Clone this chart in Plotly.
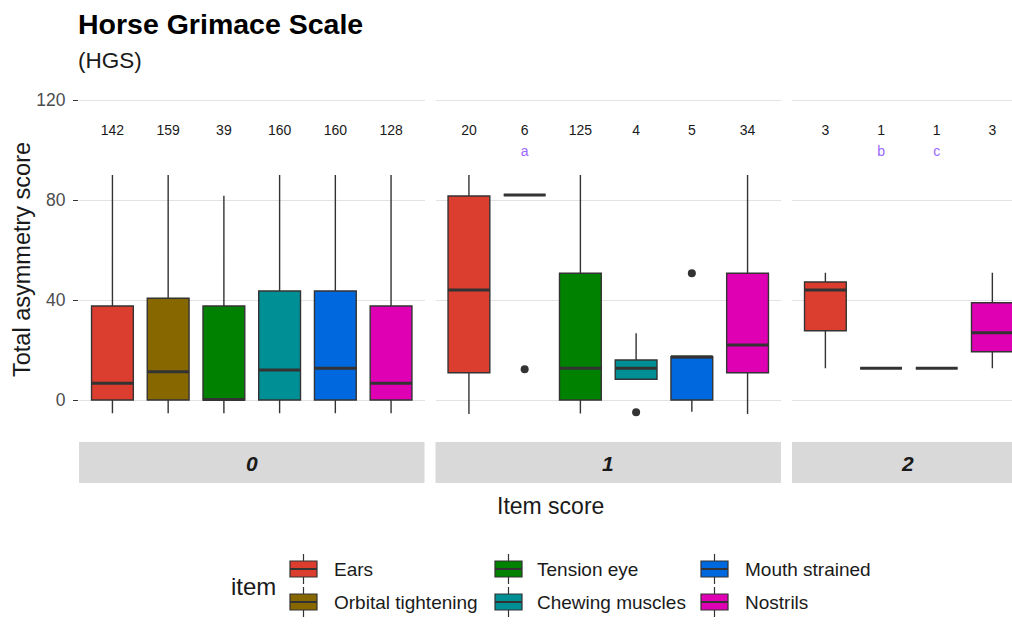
import plotly.graph_objects as go

# ---- data -------------------------------------------------------------
ITEMS = ["Ears", "Orbital tightening", "Tension eye",
         "Chewing muscles", "Mouth strained", "Nostrils"]
COLORS = {"Ears": "#DB3D2F", "Orbital tightening": "#876800",
          "Tension eye": "#008200", "Chewing muscles": "#008F94",
          "Mouth strained": "#0068DE", "Nostrils": "#E000B4"}

score_levels = ["0", "1", "2"]

# item score 0
s0_items = ["Ears", "Orbital tightening", "Tension eye",
            "Chewing muscles", "Mouth strained", "Nostrils"]
s0_n = [142, 159, 39, 160, 160, 128]
s0_low = [-5.3, -5.3, -5.3, -5.3, -5.3, -5.3]
s0_q1 = [0, 0, 0, 0, 0, 0]
s0_med = [6.7, 11.3, 0.2, 12.0, 12.7, 6.7]
s0_q3 = [37.6, 40.7, 37.6, 43.6, 43.6, 37.6]
s0_high = [90, 90, 81.7, 90, 90, 90]
s0_out = [[], [], [], [], [], []]
s0_tag = ["", "", "", "", "", ""]

# item score 1
s1_items = ["Ears", "Orbital tightening", "Tension eye",
            "Chewing muscles", "Mouth strained", "Nostrils"]
s1_n = [20, 6, 125, 4, 5, 34]
s1_low = [-5.6, 82, -5.4, 8.3, -4.7, -5.6]
s1_q1 = [10.9, 82, 0, 8.3, 0, 10.9]
s1_med = [44.0, 82, 12.7, 12.7, 17.3, 22.0]
s1_q3 = [81.6, 82, 50.7, 16.0, 17.3, 50.7]
s1_high = [90, 82, 90, 26.7, 17.3, 90]
s1_out = [[], [12.3], [], [-4.9], [50.7], []]
s1_tag = ["", "a", "", "", "", ""]

# item score 2
s2_items = ["Ears", "Orbital tightening", "Tension eye", "Nostrils"]
s2_n = [3, 1, 1, 3]
s2_low = [12.7, 12.7, 12.7, 12.7]
s2_q1 = [27.7, 12.7, 12.7, 19.3]
s2_med = [44.0, 12.7, 12.7, 26.9]
s2_q3 = [47.2, 12.7, 12.7, 38.9]
s2_high = [50.9, 12.7, 12.7, 50.9]
s2_out = [[], [], [], []]
s2_tag = ["", "b", "c", ""]

y_ticks = [0, 40, 80, 120]
n_label_y = 107.5
tag_label_y = 99

panels = [
    (s0_items, s0_n, s0_low, s0_q1, s0_med, s0_q3, s0_high, s0_out, s0_tag),
    (s1_items, s1_n, s1_low, s1_q1, s1_med, s1_q3, s1_high, s1_out, s1_tag),
    (s2_items, s2_n, s2_low, s2_q1, s2_med, s2_q3, s2_high, s2_out, s2_tag),
]

# ---- layout geometry (pixels) ----------------------------------------
W, H = 1012, 637
def fx(px):
    return px / W
def fy(py):
    return 1 - py / H

FONT = "Liberation Sans, Arial"
panel_px = [(79, 424.5), (435.5, 781), (792, 1012)]
x_ranges = [[-0.6, 5.6], [-0.6, 5.6], [-0.6, 3.353]]
panel_top, panel_bot = 84, 428
y_range = [-11.2, 126.4]

BOX_W = 0.75
LINE = "#333333"

fig = go.Figure()

for p, (items, ns, lo, q1, med, q3, hi, outs, tags) in enumerate(panels):
    xa = "x" if p == 0 else f"x{p + 1}"
    ya = "y" if p == 0 else f"y{p + 1}"
    for i, it in enumerate(items):
        fig.add_trace(go.Box(
            x=[i], q1=[q1[i]], median=[med[i]], q3=[q3[i]],
            lowerfence=[lo[i]], upperfence=[hi[i]],
            width=BOX_W, whiskerwidth=0, boxpoints=False,
            fillcolor=COLORS[it], line=dict(color=LINE, width=1.4),
            xaxis=xa, yaxis=ya, showlegend=False, hoverinfo="skip",
        ))
        # thicker median bar
        fig.add_trace(go.Scatter(
            x=[i - BOX_W / 2, i + BOX_W / 2], y=[med[i], med[i]],
            mode="lines", line=dict(color=LINE, width=3),
            xaxis=xa, yaxis=ya, showlegend=False, hoverinfo="skip",
        ))
        if outs[i]:
            fig.add_trace(go.Scatter(
                x=[i] * len(outs[i]), y=outs[i], mode="markers",
                marker=dict(color=LINE, size=8),
                xaxis=xa, yaxis=ya, showlegend=False, hoverinfo="skip",
            ))
    # sample sizes
    fig.add_trace(go.Scatter(
        x=list(range(len(items))), y=[n_label_y] * len(items),
        text=[str(v) for v in ns], mode="text",
        textfont=dict(family=FONT, size=14, color="#1A1A1A"),
        xaxis=xa, yaxis=ya, showlegend=False, hoverinfo="skip",
    ))
    # footnote letters
    fig.add_trace(go.Scatter(
        x=list(range(len(items))), y=[tag_label_y] * len(items),
        text=tags, mode="text",
        textfont=dict(family=FONT, size=14, color="#9A66FF"),
        xaxis=xa, yaxis=ya, showlegend=False, hoverinfo="skip",
    ))

axis_common = dict(showline=False, zeroline=False)
layout = dict(
    width=W, height=H, margin=dict(l=0, r=0, t=0, b=0),
    paper_bgcolor="white", plot_bgcolor="white",
    font=dict(family=FONT, color="#1A1A1A"),
    showlegend=False,
)
for p in range(3):
    xk = "xaxis" if p == 0 else f"xaxis{p + 1}"
    yk = "yaxis" if p == 0 else f"yaxis{p + 1}"
    ya_ref = "y" if p == 0 else f"y{p + 1}"
    layout[xk] = dict(
        domain=[fx(panel_px[p][0]), fx(panel_px[p][1])],
        range=x_ranges[p], showgrid=False, showticklabels=False,
        ticks="", anchor=ya_ref, **axis_common,
    )
    layout[yk] = dict(
        domain=[fy(panel_bot), fy(panel_top)], range=y_range,
        tickvals=y_ticks, showgrid=True, gridcolor="#E2E2E2", gridwidth=1.3,
        showticklabels=(p == 0), ticks="outside" if p == 0 else "",
        ticklen=5, tickwidth=1.2, tickcolor="#333333", ticklabelstandoff=4,
        tickfont=dict(family=FONT, size=17.5, color="#4D4D4D"),
        anchor="x" if p == 0 else f"x{p + 1}", **axis_common,
    )
fig.update_layout(**layout)

shapes = []
annotations = []

# facet strips along the bottom
strip_top, strip_bot = 442, 483
for p, lab in enumerate(score_levels):
    x0, x1 = panel_px[p]
    if p == 2:
        x1 = 1023.5
    shapes.append(dict(type="rect", xref="paper", yref="paper",
                       x0=fx(x0), x1=fx(x1), y0=fy(strip_bot), y1=fy(strip_top),
                       fillcolor="#D9D9D9", line=dict(width=0), layer="below"))
    annotations.append(dict(text=f"<b><i>{lab}</i></b>", xref="paper", yref="paper",
                            x=fx((x0 + x1) / 2), y=fy((strip_top + strip_bot) / 2 + 1),
                            showarrow=False, font=dict(size=21, color="#1A1A1A"),
                            xanchor="center", yanchor="middle"))

# titles
annotations += [
    dict(text="<b>Horse Grimace Scale</b>", xref="paper", yref="paper",
         x=fx(76), y=fy(24), xanchor="left", yanchor="middle", showarrow=False,
         font=dict(family=FONT, size=28.5, color="#000000")),
    dict(text="(HGS)", xref="paper", yref="paper",
         x=fx(76), y=fy(61), xanchor="left", yanchor="middle", showarrow=False,
         font=dict(family=FONT, size=22.5, color="#1A1A1A")),
    dict(text="Total asymmetry score", xref="paper", yref="paper",
         x=fx(22), y=fy(260), xanchor="center", yanchor="middle", showarrow=False,
         textangle=-90, font=dict(family=FONT, size=23.5, color="#1A1A1A")),
    dict(text="Item score", xref="paper", yref="paper",
         x=fx(550), y=fy(506), xanchor="center", yanchor="middle", showarrow=False,
         font=dict(family=FONT, size=23, color="#1A1A1A")),
    dict(text="item", xref="paper", yref="paper",
         x=fx(229), y=fy(586), xanchor="left", yanchor="middle", showarrow=False,
         font=dict(family=FONT, size=24, color="#1A1A1A")),
]

# legend keys (3 columns x 2 rows, filled column-wise)
key_cols = [290, 495, 701]
text_cols = [332, 535, 743]
key_rows = [569, 602]
for k, it in enumerate(ITEMS):
    c, r = k // 2, k % 2
    kx0, kx1 = key_cols[c], key_cols[c] + 27
    cy = key_rows[r]
    kxm = (kx0 + kx1) / 2
    shapes.append(dict(type="line", xref="paper", yref="paper",
                       x0=fx(kxm), x1=fx(kxm), y0=fy(cy + 15), y1=fy(cy - 15),
                       line=dict(color=LINE, width=1.2)))
    shapes.append(dict(type="rect", xref="paper", yref="paper",
                       x0=fx(kx0), x1=fx(kx1), y0=fy(cy + 8), y1=fy(cy - 8),
                       fillcolor=COLORS[it], line=dict(color=LINE, width=1.2)))
    shapes.append(dict(type="line", xref="paper", yref="paper",
                       x0=fx(kx0), x1=fx(kx1), y0=fy(cy), y1=fy(cy),
                       line=dict(color=LINE, width=2)))
    annotations.append(dict(text=it, xref="paper", yref="paper",
                            x=fx(text_cols[c]), y=fy(cy), xanchor="left",
                            yanchor="middle", showarrow=False,
                            font=dict(family=FONT, size=19, color="#1A1A1A")))

fig.update_layout(shapes=shapes, annotations=annotations)
fig.write_html("out.html")
